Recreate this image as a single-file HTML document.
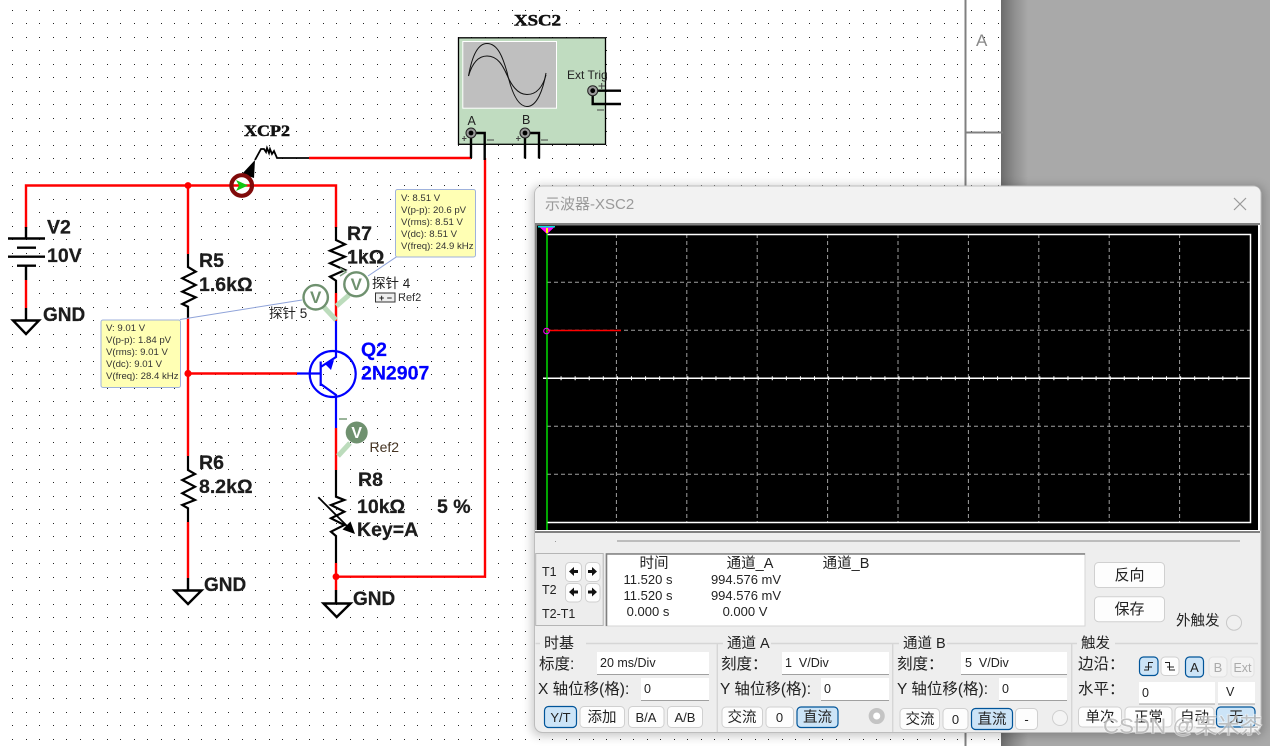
<!DOCTYPE html>
<html><head><meta charset="utf-8"><style>
html,body{margin:0;padding:0;background:#fff}
svg{display:block}
text{font-family:"Liberation Sans","Noto Sans CJK SC",sans-serif;fill:#222}
.b{font-weight:bold;font-size:19.5px;fill:#1c1c1c;stroke:#1c1c1c;stroke-width:.25}
.m{font-family:"Liberation Serif",serif;font-weight:bold;font-size:15.5px;fill:#111;stroke:#111;stroke-width:.5}
.t{font-size:9.6px;fill:#333}
.q{font-weight:bold;font-size:19.5px;fill:#0000ff;stroke:#0000ff;stroke-width:.2}
.r{fill:none;stroke:#ff0000;stroke-width:2.4}
.k{fill:none;stroke:#000;stroke-width:2.4}
.k2{fill:none;stroke:#000;stroke-width:1.8}
.u{fill:none;stroke:#0000ff;stroke-width:2.2}
.g{fill:none;stroke:#a0a0a0;stroke-width:1;stroke-dasharray:4 3}
.w{fill:none;stroke:#fff;stroke-width:1.5}
.l{font-size:15.5px;fill:#222}
.v{font-size:12.5px;fill:#222}
.cv{font-size:13px;fill:#222;text-anchor:middle}
.hd{font-size:14.5px;fill:#222;text-anchor:middle}
.bt{fill:#fdfdfd;stroke:#d0d0d0;stroke-width:1}
.ba{fill:#cce4f7;stroke:#005499;stroke-width:1.2}
.bd{fill:#f3f3f3;stroke:#e2e2e2;stroke-width:1}
.bl{font-size:15px;fill:#222;text-anchor:middle}
.bs{font-size:13px;fill:#222;text-anchor:middle}
.in{fill:#fff}
.ul{stroke:#a0a0a0;stroke-width:1}
.sep{stroke:#d6d6d6;stroke-width:1.4;fill:none}
.lead{stroke:#8fa3d9;stroke-width:1;fill:none}
.tip{fill:#ffffb4;stroke:#9fb2dc;stroke-width:1}
</style></head><body>
<svg width="1270" height="746" viewBox="0 0 1270 746" xmlns="http://www.w3.org/2000/svg">
<defs>
<pattern id="d" x="0" y="0" width="27" height="27" patternUnits="userSpaceOnUse">
<g fill="#222" shape-rendering="crispEdges"><rect x="12" y="10" width="1" height="1"/><rect x="26" y="10" width="1" height="1"/><rect x="12" y="23" width="1" height="1"/><rect x="26" y="23" width="1" height="1"/></g>
</pattern>
<filter id="bl" x="-10%" y="-10%" width="120%" height="120%"><feGaussianBlur stdDeviation="5"/></filter>
<linearGradient id="sh" x1="0" x2="1" y1="0" y2="0"><stop offset="0" stop-color="#6c6c6c"/><stop offset=".5" stop-color="#8f8f8f"/><stop offset="1" stop-color="#a9a9a9"/></linearGradient>
</defs>
<rect width="1270" height="746" fill="#fff"/>
<rect width="1001" height="746" fill="url(#d)"/>
<!-- right side -->
<rect x="1001" y="0" width="27" height="746" fill="url(#sh)"/>
<rect x="1028" y="0" width="242" height="746" fill="#a9a9a9"/>
<rect x="964.5" y="0" width="2" height="746" fill="#808080"/>
<rect x="966" y="131.5" width="37" height="2" fill="#808080"/>
<text x="976" y="46" style="font-size:17px;fill:#888">A</text>

<!-- wires -->
<path class="r" d="M26 228V185.5H336V228"/>
<path class="r" d="M26 280V308"/>
<path class="r" d="M188 185.5V254M188 318V456M188 522V578"/>
<path class="r" d="M336 293V321M336 428V470M336 563V590"/>
<path class="r" d="M336 576.7H485V158M188 373.5H297M309 158H471"/>
<circle cx="188" cy="185.5" r="3.4" fill="#f00"/>
<circle cx="188" cy="373.5" r="3.6" fill="#f00"/>
<circle cx="336" cy="576.7" r="3.4" fill="#f00"/>

<!-- V2 -->
<path class="k" d="M26 227V238.5M8 238.5H45M17 247.7H36M8 256.7H45M17 265.7H36M26 266V280M26 308V320M13 320.5H39L26 334Z"/>
<text class="b" x="47" y="233.5">V2</text>
<text class="b" x="47" y="262">10V</text>
<text class="b" x="43" y="321" style="font-size:19px">GND</text>

<!-- R5 -->
<path class="k2" style="stroke-width:2.2" d="M188 254V267L195.7 271.7L182.3 278.3L195.7 285L182.3 291.7L195.7 297.3L182.3 304L188 306.7V318"/>
<text class="b" x="199" y="267">R5</text>
<text class="b" x="199" y="291">1.6kΩ</text>
<!-- R6 -->
<path class="k2" style="stroke-width:2.2" d="M188 456V470L195 474L182.3 480L195 486.7L182.3 493.3L195 500L182.3 505L188 508.3V522"/>
<text class="b" x="199" y="469">R6</text>
<text class="b" x="199" y="493">8.2kΩ</text>
<path class="k" d="M188 578V590.5M174.5 590.5H201.5L188 604Z"/>
<text class="b" x="204" y="591" style="font-size:19px">GND</text>
<!-- R7 -->
<path class="k2" style="stroke-width:2.2" d="M336 227V240L345 244.3L330 250.7L345 256.7L330 263.3L345 270L330 276.7L336 280.7V293"/>
<text class="b" x="347" y="240">R7</text>
<text class="b" x="347" y="263.5">1kΩ</text>

<!-- R8 -->
<path class="k2" style="stroke-width:2.2" d="M336 470V496.7L344.3 500L331 505L344.3 511.7L331 518.3L344.3 525L331 531.7L336 536V563"/>
<path d="M318.3 497.3L350 529" stroke="#000" stroke-width="1.8" fill="none"/>
<path d="M355 534L342.5 529.5L350.5 521.5Z" fill="#000"/>
<text class="b" x="358" y="486">R8</text>
<text class="b" x="357" y="513">10kΩ</text>
<text class="b" x="437" y="513">5 %</text>
<text class="b" x="357" y="536">Key=A</text>
<path class="k" d="M336 590V603.5M323.5 603.5H350.5L336.7 617Z"/>
<text class="b" x="353" y="605" style="font-size:19px">GND</text>

<!-- Q2 -->
<path class="u" d="M336 321V351"/>
<circle class="u" cx="332.7" cy="374" r="23"/>
<path class="u" d="M297 373.5H320.7M320.7 361.5V386M320.7 367L336 357V351M320.7 384L336 395V428"/>
<path d="M325 364L334 360L331 370Z" fill="#0000ff"/>
<text class="q" x="361" y="356">Q2</text>
<text class="q" x="361" y="379.5">2N2907</text>

<!-- probes -->
<path d="M336.5 306L349 295" stroke="#bcdcbc" stroke-width="5" fill="none"/>
<path d="M336 320L322 305" stroke="#bcdcbc" stroke-width="5" fill="none"/>
<path d="M340 268L346 272L340 276" stroke="#7f9f7f" stroke-width="1.5" fill="none"/>
<path class="lead" d="M368 276L396.7 256.7M302 300L180 319.5"/>
<circle cx="356.3" cy="284.3" r="12" fill="#fff" stroke="#6f916f" stroke-width="2.4"/>
<text x="356.3" y="290" text-anchor="middle" style="font-size:17px;font-weight:bold;fill:#6f916f">V</text>
<circle cx="315.7" cy="297.3" r="12.2" fill="#fff" stroke="#6f916f" stroke-width="2.4"/>
<text x="315.7" y="303" text-anchor="middle" style="font-size:17px;font-weight:bold;fill:#6f916f">V</text>
<text x="372" y="288" style="font-size:13.5px">探针 4</text>
<text x="269" y="318" style="font-size:13.5px">探针 5</text>
<rect x="375.5" y="293" width="19.5" height="9" fill="#eee" stroke="#333" stroke-width="1"/>
<text x="379" y="301" style="font-size:9px;font-weight:bold">+ −</text>
<text x="398" y="301" style="font-size:11px;fill:#333">Ref2</text>
<!-- ground probe -->
<path d="M338 456L350 443" stroke="#bcdcbc" stroke-width="5" fill="none"/>
<circle cx="356.7" cy="432.5" r="11" fill="#6f916f"/>
<text x="356.7" y="438" text-anchor="middle" style="font-size:16px;font-weight:bold;fill:#fff">V</text>
<path d="M339 419H347" stroke="#9ab49a" stroke-width="2"/>
<text x="369.5" y="452" style="font-size:14px;fill:#443322">Ref2</text>

<!-- tooltips -->
<rect class="tip" x="395.5" y="189.5" width="80" height="67.5" rx="2"/>
<text class="t" x="401" y="201">V: 8.51 V</text>
<text class="t" x="401" y="213">V(p-p): 20.6 pV</text>
<text class="t" x="401" y="225">V(rms): 8.51 V</text>
<text class="t" x="401" y="237">V(dc): 8.51 V</text>
<text class="t" x="401" y="249">V(freq): 24.9 kHz</text>
<rect class="tip" x="101" y="320" width="79.5" height="67.5" rx="2"/>
<text class="t" x="106" y="331">V: 9.01 V</text>
<text class="t" x="106" y="343">V(p-p): 1.84 pV</text>
<text class="t" x="106" y="355">V(rms): 9.01 V</text>
<text class="t" x="106" y="367">V(dc): 9.01 V</text>
<text class="t" x="106" y="379">V(freq): 28.4 kHz</text>

<!-- XCP2 -->
<text class="m" x="244" y="136" textLength="46" lengthAdjust="spacingAndGlyphs">XCP2</text>
<path d="M255 160L242 174L254 178Z" fill="#000"/>
<path d="M255 160L261 149H264L266 152L267 148L269 153L270 149L272 154L274 151L277 158H309" stroke="#000" stroke-width="1.8" fill="none"/>
<circle cx="241.7" cy="185.5" r="10.3" fill="none" stroke="#800a0a" stroke-width="4.2"/>
<path d="M236 180L248 185.5L236 191L239 185.5Z" fill="#12c812"/>

<!-- XSC2 -->
<text class="m" x="514" y="25.5" textLength="47" lengthAdjust="spacingAndGlyphs">XSC2</text>
<rect x="458.5" y="37.8" width="147" height="106.5" fill="#c0dcc0" stroke="#000" stroke-width="1.3"/>
<rect x="462.8" y="41.5" width="93.7" height="66.7" fill="#bfbfbf" stroke="#fff" stroke-width="1"/>
<path d="M468.5 76C472 56 478 43.5 487 43.5C498 43.5 503 58 507 72C511 90 517 106.5 527 106.5C537 106.5 543 90 546 73" fill="none" stroke="#111" stroke-width="1"/>
<path d="M468.5 76C472 64 478 56 487 56C498 56 503 66 507 75C511 84 517 94.5 527 94.5C537 94.5 543 86 546 75" fill="none" stroke="#111" stroke-width="1"/>
<text x="467.500" y="125" style="font-size:12.500px">A</text>
<text x="522" y="124" style="font-size:12.500px">B</text>
<text x="567" y="79" style="font-size:12px">Ext Trig</text>
<path class="k" d="M471 133V158M471 133H484.700V160"/>
<path class="k" d="M525 133V158.500M525 133H539V158.500"/>
<path class="k" d="M592.700 90.700H621M592.700 90.700V104H621"/>
<g fill="#999" stroke="#222" stroke-width="1"><circle cx="471" cy="133" r="5"/><circle cx="525" cy="133" r="5"/><circle cx="592.700" cy="90.700" r="5"/></g>
<g fill="#000"><circle cx="471" cy="133" r="2.400"/><circle cx="525" cy="133" r="2.400"/><circle cx="592.700" cy="90.700" r="2.400"/></g>
<path d="M462 138.500H466.500M464.200 136V141M516 138.500H520.500M518.200 136V141M487 140H494M541 140H548M598.500 86H605M601.700 83V89M597 110H604" stroke="#444" stroke-width="1" fill="none"/>

<!-- window -->
<rect x="532" y="186" width="732" height="550" rx="8" fill="#000" opacity=".22" filter="url(#bl)"/>
<rect x="534.500" y="186" width="726.500" height="546.500" rx="8" fill="#eeeeee" stroke="#bdbdbd" stroke-width="1"/>
<path d="M535 223V194Q535 186.500 543 186.500H1253Q1260.500 186.500 1260.500 194V223Z" fill="#f2f2f2"/>
<text x="545" y="209" style="font-size:15px;fill:#9a9a9a">示波器-XSC2</text>
<path d="M1234 198L1246 210M1246 198L1234 210" stroke="#999" stroke-width="1.200"/>
<!-- screen -->
<rect x="535" y="223" width="725" height="310" fill="#808080"/>
<rect x="1258" y="225" width="3" height="306" fill="#fff"/>
<rect x="1260" y="225" width="1" height="306" fill="#bbb"/>
<rect x="537" y="225.500" width="721" height="304.500" fill="#000"/>
<rect x="535" y="530" width="725" height="1" fill="#fff"/>
<path class="g" d="M616.400 234V522M686.800 234V522M757.200 234V522M827.600 234V522M898 234V522M968.400 234V522M1038.800 234V522M1109.200 234V522M1179.600 234V522"/>
<path class="g" d="M547 282.300H1250M547 330.300H1250M547 426.300H1250M547 474.300H1250"/>
<path class="w" d="M547 234.500H1250.500V522.500H547"/>
<path class="w" d="M543 378.300H1250.500"/>
<path d="M546.500 378.300H1250" stroke="#fff" stroke-width="4" stroke-dasharray="1 13.080" fill="none"/>
<path d="M547 226V530" stroke="#00ff00" stroke-width="1.300"/>
<path d="M547 330.500H621" stroke="#ff0000" stroke-width="1.500"/>
<circle cx="546.500" cy="331" r="2.800" fill="none" stroke="#ff00ff" stroke-width="1"/>
<rect x="538" y="226" width="17" height="1.500" fill="#00e0e0"/>
<path d="M540 227.500H554L547 234Z" fill="#ff00ff"/>
<rect x="546" y="228" width="2" height="5" fill="#ffff00"/>

<path d="M617 541H1240" stroke="#8c8c8c" stroke-width="1"/>
<rect x="555" y="541" width="1" height="1" fill="#999"/>

<!-- cursor panel -->
<rect x="535.700" y="553.500" width="67.500" height="72" fill="#ededed" stroke="#b5b5b5" stroke-width="1"/>
<text x="542" y="576" style="font-size:12.500px">T1</text>
<text x="542" y="594" style="font-size:12.500px">T2</text>
<text x="542" y="618" style="font-size:12.500px">T2-T1</text>
<rect class="bt" x="565.500" y="562.500" width="16" height="19" rx="4"/>
<rect class="bt" x="585.500" y="562.500" width="14.500" height="19" rx="4"/>
<rect class="bt" x="565.500" y="583.500" width="16" height="18.500" rx="4"/>
<rect class="bt" x="585.500" y="583.500" width="14.500" height="18.500" rx="4"/>
<g fill="#111">
<path d="M569 571.500L574 567V570H578V573H574V576Z"/>
<path d="M597 571.500L592 567V570H588V573H592V576Z"/>
<path d="M569 592L574 587.500V590.500H578V593.500H574V596.500Z"/>
<path d="M597 592L592 587.500V590.500H588V593.500H592V596.500Z"/>
</g>
<!-- readout -->
<rect x="606" y="553.500" width="479" height="72.500" fill="#fff" stroke="#d5d5d5" stroke-width="1"/>
<path d="M606.500 626V554H1085" stroke="#808080" stroke-width="1.600" fill="none"/>
<text class="hd" x="654" y="568">时间</text>
<text class="hd" x="750" y="568">通道_A</text>
<text class="hd" x="846" y="568">通道_B</text>
<text class="cv" x="648" y="584">11.520 s</text>
<text class="cv" x="746" y="584">994.576 mV</text>
<text class="cv" x="648" y="600">11.520 s</text>
<text class="cv" x="746" y="600">994.576 mV</text>
<text class="cv" x="648" y="616">0.000 s</text>
<text class="cv" x="745" y="616">0.000 V</text>
<!-- right buttons -->
<rect class="bt" x="1094.500" y="562.500" width="70" height="25" rx="4"/>
<text class="bl" x="1129.500" y="580">反向</text>
<rect class="bt" x="1094.500" y="596.700" width="70" height="25" rx="4"/>
<text class="bl" x="1129.500" y="614">保存</text>
<text x="1176" y="625.500" style="font-size:14.500px">外触发</text>
<circle cx="1234" cy="622.700" r="7.500" fill="#f0f0f0" stroke="#c8c8c8"/>

<!-- group lines -->
<path class="sep" d="M535.500 643.500H1258M717.300 643.500V732M892.700 643.500V732M1071.700 643.500V732"/>
<g fill="#eeeeee"><rect x="540" y="638" width="46" height="10"/><rect x="723" y="638" width="48" height="10"/><rect x="899" y="638" width="48" height="10"/><rect x="1077" y="638" width="38" height="10"/></g>
<text x="544" y="648" style="font-size:15px">时基</text>
<text x="727" y="648" style="font-size:14.500px">通道 A</text>
<text x="903" y="648" style="font-size:14.500px">通道 B</text>
<text x="1081" y="648" style="font-size:14.500px">触发</text>

<!-- timebase -->
<text class="l" x="539" y="669">标度:</text>
<rect class="in" x="597" y="652" width="112" height="22.500"/><path class="ul" d="M597 674.500H709"/>
<text class="v" x="600" y="667">20 ms/Div</text>
<text class="l" x="538" y="694">X 轴位移(格):</text>
<rect class="in" x="641" y="678" width="68" height="22.500"/><path class="ul" d="M641 700.500H709"/>
<text class="v" x="644" y="693">0</text>
<rect class="ba" x="544.500" y="706.500" width="32" height="21" rx="4"/><text class="bs" x="560.500" y="722">Y/T</text>
<rect class="bt" x="580" y="706.500" width="44.500" height="21" rx="4"/><text class="bl" x="602" y="722" style="font-size:14.500px">添加</text>
<rect class="bt" x="628.500" y="706.500" width="35.500" height="21" rx="4"/><text class="bs" x="646" y="722">B/A</text>
<rect class="bt" x="667.500" y="706.500" width="35" height="21" rx="4"/><text class="bs" x="685" y="722">A/B</text>

<!-- channel A -->
<text class="l" x="721" y="669">刻度：</text>
<rect class="in" x="782" y="652" width="107" height="22.500"/><path class="ul" d="M782 674.500H889"/>
<text class="v" x="785" y="667" xml:space="preserve">1  V/Div</text>
<text class="l" x="720" y="694">Y 轴位移(格):</text>
<rect class="in" x="821" y="678" width="68" height="22.500"/><path class="ul" d="M821 700.500H889"/>
<text class="v" x="824" y="693">0</text>
<rect class="bt" x="722" y="707" width="40.500" height="20.500" rx="4"/><text class="bl" x="742" y="722" style="font-size:14.500px">交流</text>
<rect class="bt" x="766" y="707" width="27.500" height="20.500" rx="4"/><text class="bs" x="779.500" y="722">0</text>
<rect class="ba" x="797" y="707" width="41" height="20.500" rx="4"/><text class="bl" x="817.500" y="722" style="font-size:14.500px">直流</text>
<circle cx="876.700" cy="716" r="5.800" fill="#fff" stroke="#c4c4c4" stroke-width="4.500"/>

<!-- channel B -->
<text class="l" x="897" y="669">刻度：</text>
<rect class="in" x="961" y="652" width="106" height="22.500"/><path class="ul" d="M961 674.500H1067"/>
<text class="v" x="965" y="667" xml:space="preserve">5  V/Div</text>
<text class="l" x="897" y="694">Y 轴位移(格):</text>
<rect class="in" x="999" y="678" width="68" height="22.500"/><path class="ul" d="M999 700.500H1067"/>
<text class="v" x="1002" y="693">0</text>
<rect class="bt" x="900" y="708.500" width="39.500" height="21" rx="4"/><text class="bl" x="920" y="724" style="font-size:14.500px">交流</text>
<rect class="bt" x="943" y="708.500" width="25" height="21" rx="4"/><text class="bs" x="955.500" y="724">0</text>
<rect class="ba" x="971.500" y="708.500" width="41" height="21" rx="4"/><text class="bl" x="992" y="724" style="font-size:14.500px">直流</text>
<rect class="bt" x="1015.500" y="708.500" width="22" height="21" rx="4"/><text class="bs" x="1026.500" y="724">-</text>
<circle cx="1060" cy="718" r="7.500" fill="#f4f4f4" stroke="#cfcfcf"/>

<!-- trigger -->
<text class="l" x="1078" y="669">边沿：</text>
<rect class="ba" x="1139.500" y="657" width="18.500" height="18.500" rx="4"/>
<path d="M1144 670H1148.500V662.500H1153M1145 667L1152 667" stroke="#222" stroke-width="1" fill="none"/>
<rect class="bt" x="1161" y="657" width="18" height="18.500" rx="4"/>
<path d="M1165 662.500H1169.500V670H1175M1167 667H1174" stroke="#222" stroke-width="1" fill="none"/>
<rect class="ba" x="1185.500" y="657" width="18" height="20" rx="4"/><text class="bs" x="1194.500" y="672">A</text>
<rect class="bd" x="1209" y="657" width="18" height="20" rx="4"/><text class="bs" x="1218" y="672" style="fill:#aaa">B</text>
<rect class="bd" x="1231" y="657" width="23" height="20" rx="4"/><text class="bs" x="1242.500" y="672" style="fill:#aaa;font-size:12.500px">Ext</text>
<text class="l" x="1078" y="694">水平：</text>
<rect class="in" x="1139" y="682" width="76" height="22"/><path class="ul" d="M1139 704H1215"/>
<text class="v" x="1142" y="697">0</text>
<rect class="in" x="1218" y="682" width="37" height="22"/><path class="ul" d="M1218 704H1255"/>
<text class="v" x="1226" y="696">V</text>
<rect class="bt" x="1078.500" y="707" width="43" height="20" rx="4"/><text class="bl" x="1100" y="722" style="font-size:14.500px">单次</text>
<rect class="bt" x="1125" y="707" width="47" height="20" rx="4"/><text class="bl" x="1148.500" y="722" style="font-size:14.500px">正常</text>
<rect class="bt" x="1175" y="707" width="39" height="20" rx="4"/><text class="bl" x="1194.500" y="722" style="font-size:14.500px">自动</text>
<rect class="ba" x="1216.500" y="707" width="38.500" height="20" rx="4"/><text class="bl" x="1236" y="722" style="font-size:14.500px">无</text>

<text x="1103" y="733" textLength="159" lengthAdjust="spacingAndGlyphs" style="font-size:21.500px;fill:rgba(175,175,175,.75);stroke:rgba(255,255,255,.55);stroke-width:1.500;paint-order:stroke">CSDN @栗米茶</text>
</svg>
</body></html>
